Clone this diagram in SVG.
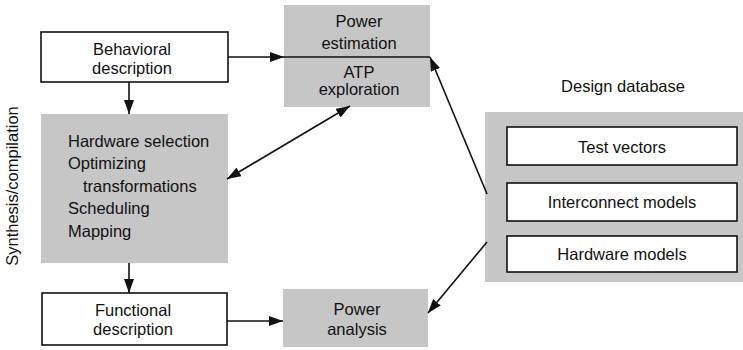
<svg xmlns="http://www.w3.org/2000/svg" width="743" height="350" viewBox="0 0 743 350">
<style>
text{font-family:"Liberation Sans",Arial,sans-serif;font-size:16.5px;fill:#111}
.c{text-anchor:middle}
.box{fill:#fff;stroke:#111;stroke-width:1.6}
.shade{fill:#c6c6c6;stroke:none}
.ln{stroke:#111;stroke-width:1.6;fill:none}
</style>
<defs>
<marker id="ah" viewBox="0 0 14 10" refX="14" refY="5" markerWidth="14" markerHeight="10" markerUnits="userSpaceOnUse" orient="auto-start-reverse">
<path d="M0,0 L14,5 L0,10 z" fill="#111"/>
</marker>
</defs>
<rect width="743" height="350" fill="#fff"/>
<text transform="translate(18,186) rotate(-90)" class="c">Synthesis/compilation</text>
<g id="behavioral">
<rect class="box" x="41" y="32" width="187" height="50"/>
<text class="c" x="132" y="55">Behavioral</text>
<text class="c" x="132" y="74">description</text>
</g>
<g id="power-estimation">
<rect class="shade" x="284" y="5" width="146" height="102"/>
<text class="c" x="359" y="27">Power</text>
<text class="c" x="359" y="49">estimation</text>
<text class="c" x="359" y="78">ATP</text>
<text class="c" x="359" y="95">exploration</text>
</g>
<g id="synthesis">
<rect class="shade" x="41" y="114" width="187" height="149"/>
<text x="68" y="147">Hardware selection</text>
<text x="68" y="169">Optimizing</text>
<text x="83" y="192">transformations</text>
<text x="68" y="214">Scheduling</text>
<text x="68" y="237">Mapping</text>
</g>
<g id="functional">
<rect class="box" x="42" y="293" width="185" height="52"/>
<text class="c" x="133" y="316">Functional</text>
<text class="c" x="133" y="335">description</text>
</g>
<g id="power-analysis">
<rect class="shade" x="283" y="289" width="145" height="58"/>
<text class="c" x="357" y="315">Power</text>
<text class="c" x="357" y="335">analysis</text>
</g>
<g id="design-database">
<text class="c" x="623" y="92">Design database</text>
<rect class="shade" x="485" y="112" width="258" height="170"/>
<g id="test-vectors">
<rect class="box" x="507" y="127" width="230" height="38"/>
<text class="c" x="622" y="153">Test vectors</text>
</g>
<g id="interconnect-models">
<rect class="box" x="507" y="183" width="230" height="38"/>
<text class="c" x="622" y="208">Interconnect models</text>
</g>
<g id="hardware-models">
<rect class="box" x="507" y="236" width="230" height="36"/>
<text class="c" x="622" y="260">Hardware models</text>
</g>
</g>
<g id="connectors">
<line class="ln" x1="284" y1="57" x2="430" y2="57"/>
<line class="ln" x1="228" y1="57" x2="284" y2="57" marker-end="url(#ah)"/>
<line class="ln" x1="129" y1="82" x2="129" y2="114" marker-end="url(#ah)"/>
<line class="ln" x1="129" y1="263" x2="129" y2="293" marker-end="url(#ah)"/>
<line class="ln" x1="227" y1="321" x2="283" y2="321" marker-end="url(#ah)"/>
<line class="ln" x1="227" y1="179" x2="350" y2="106" marker-start="url(#ah)" marker-end="url(#ah)"/>
<line class="ln" x1="487" y1="194" x2="430" y2="57" marker-end="url(#ah)"/>
<line class="ln" x1="487" y1="242" x2="428" y2="313" marker-end="url(#ah)"/>
</g>
</svg>
